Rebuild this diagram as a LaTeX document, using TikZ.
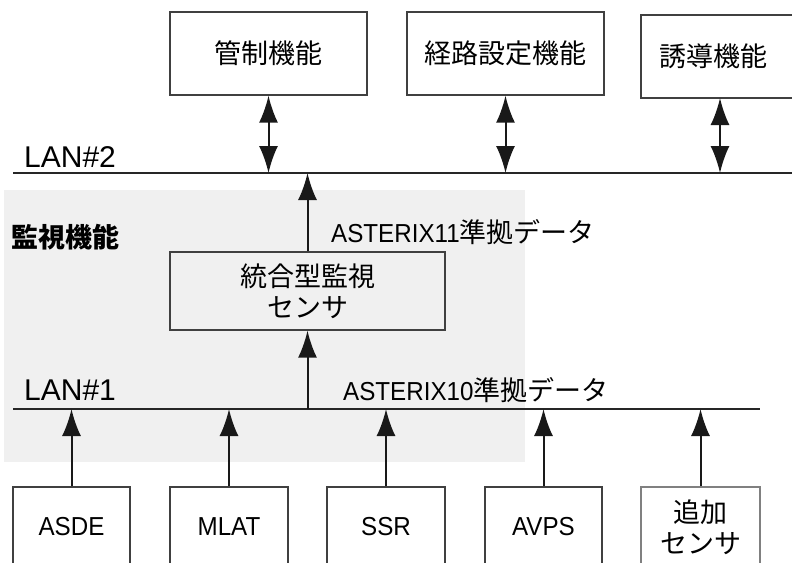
\documentclass[tikz,border=0pt]{standalone}
\usepackage{fontspec}
\setmainfont{Liberation Sans}[FakeStretch=0.93]
\newfontfamily\lanfont{Liberation Sans}
\newfontfamily\jp{Noto Sans CJK JP}
\usetikzlibrary{arrows.meta}
\begin{document}
\begin{tikzpicture}[x=1pt,y=-1pt,
  box/.style={draw=black!75, line width=1.3pt, inner sep=0pt, align=center,
    font=\fontsize{27}{31}\selectfont\jp},
  sbox/.style={box, font=\fontsize{26}{31}\selectfont},
  lan/.style={line width=2.4pt, draw=black!85},
  arr/.style={line width=2pt, draw=black!90, -{Latex[length=27pt,width=19pt]}},
  dbl/.style={line width=2pt, draw=black!90, {Latex[length=27pt,width=19pt]}-{Latex[length=27pt,width=19pt]}},
  lbl/.style={inner sep=0pt, anchor=west, font=\fontsize{26}{30}\selectfont}]
\useasboundingbox (0,0) rectangle (792,562);
\clip (0,0) rectangle (792,562);
\fill[black!6] (4,190) rectangle (525,462);
% top boxes
\node[box, minimum width=197pt, minimum height=83pt] (b1) at (268.5,53.5) {管制機能};
\node[box, minimum width=197pt, minimum height=83pt] (b2) at (505.5,53.5) {経路設定機能};
\draw[draw=black!75, line width=1.3pt] (800,15) -- (641,15) -- (641,98) -- (800,98);
\node[inner sep=0pt, font=\fontsize{27}{31}\selectfont\jp] (b3) at (713,56.5) {誘導機能};
\coordinate (b3s) at (720,98);
% LANs
\coordinate (lan2w) at (13,173);
\coordinate (lan2e) at (800,173);
\draw[lan] (lan2w) -- (lan2e);
\coordinate (lan1w) at (13,409);
\coordinate (lan1e) at (760,409);
\draw[lan] (lan1w) -- (lan1e);
\node[lbl, font=\fontsize{30}{30}\selectfont\lanfont] (l2) at (24,157) {LAN\#2};
\node[lbl, font=\fontsize{30}{30}\selectfont\lanfont] (l1) at (24,390) {LAN\#1};
\node[lbl, font=\fontsize{27}{30}\selectfont\bfseries\jp] (kan) at (11,237) {監視機能};
\node[lbl] (ast11) at (331,232) {ASTERIX11{\fontsize{27}{30}\selectfont\jp 準拠データ}};
\node[lbl] (ast10) at (343,390) {ASTERIX10{\fontsize{27}{30}\selectfont\jp 準拠データ}};
% unified box
\node[box, minimum width=275pt, minimum height=78pt] (u) at (307.5,291) {統合型監視\\センサ};
% bottom boxes
\node[sbox, minimum width=117pt, minimum height=80pt] (s1) at (71.5,527) {ASDE};
\node[sbox, minimum width=118pt, minimum height=80pt] (s2) at (229,527) {MLAT};
\node[sbox, minimum width=118pt, minimum height=80pt] (s3) at (386,527) {SSR};
\node[sbox, minimum width=117pt, minimum height=80pt] (s4) at (543.5,527) {AVPS};
\node[box, draw=black!50, minimum width=119pt, minimum height=80pt] (s5) at (700.5,527) {追加\\センサ};
% connectors
\draw[dbl] (b1.south) -- (b1.south |- lan2w);
\draw[dbl] (b2.south) -- (b2.south |- lan2w);
\draw[dbl] (b3s) -- (b3s |- lan2w);
\draw[arr] (u.north) -- (u.north |- lan2w);
\draw[arr] (u.south |- lan1w) -- (u.south);
\foreach \s in {s1,s2,s3,s4,s5}
  \draw[arr] (\s.north) -- (\s.north |- lan1w);
\end{tikzpicture}
\end{document}
